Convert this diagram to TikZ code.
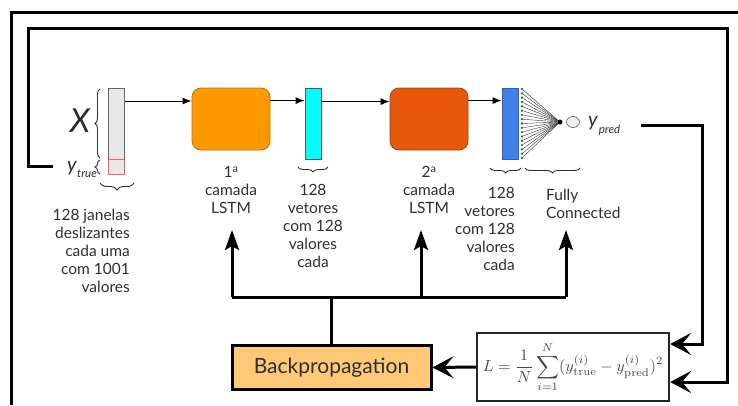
\documentclass[tikz,border=0pt]{standalone}
\usepackage[no-math]{fontspec}
\setmainfont{Lato}
\usepackage{amsmath}
\usetikzlibrary{arrows.meta,decorations.pathreplacing,shapes.geometric,calc}
\definecolor{txt}{HTML}{2E2E2E}
\definecolor{lstmA}{HTML}{FF9900}
\definecolor{lstmAline}{HTML}{B8740F}
\definecolor{lstmB}{HTML}{E8580C}
\definecolor{lstmBline}{HTML}{99461C}
\definecolor{vecA}{HTML}{00FFFF}
\definecolor{vecB}{HTML}{4080E8}
\definecolor{vecBline}{HTML}{2F5FAF}
\definecolor{bpfill}{HTML}{FFC877}
\definecolor{dotc}{HTML}{2F5F4F}
\begin{document}
\begin{tikzpicture}[x=1pt,y=-1pt,
  lab/.style={text=txt,inner sep=0pt,font=\fontsize{15.5}{18}\selectfont},
  bar/.style={minimum width=16pt,inner sep=0pt,line width=0.8pt},
  lstm/.style={minimum width=78pt,minimum height=62pt,rounded corners=9pt,inner sep=0pt,line width=0.8pt},
  arr/.style={line width=1pt,-{Latex[length=9pt,width=7pt]}},
  fb/.style={line width=3pt,-{Stealth[length=21pt,width=22pt,inset=9pt]}},
  bus/.style={line width=3pt},
  uparr/.style={line width=3pt,-{Stealth[length=20pt,width=14pt,inset=4pt]}},
  brc/.style={decorate,decoration={brace,amplitude=5pt},draw=txt,line width=0.9pt},
  fcline/.style={draw=black!80,line width=0.4pt}]
\useasboundingbox (0,0) rectangle (738,405);

% frame
\draw[line width=3pt] (11,405) -- (11,12) -- (738,12);

% input window
\node[bar,draw=gray!80!black,fill=gray!18,minimum height=86pt,anchor=north west] (xin) at (108,88) {};
\node[bar,draw=red!65,minimum height=15pt,anchor=north west] (ytr) at (108,159) {};

% layers
\node[lstm,fill=lstmA,draw=lstmAline] (l1) at (231,119) {};
\node[bar,fill=vecA,draw=gray!70!black,minimum height=71pt] (c1) at (313,123.5) {};
\node[lstm,fill=lstmB,draw=lstmBline] (l2) at (429,119) {};
\node[bar,fill=vecB,draw=vecBline,minimum height=71pt] (b1) at (510,123.5) {};

% forward arrows
\draw[arr] ([yshift=-13pt]xin.north east) coordinate (a0) -- (a0 -| l1.west);
\draw[arr] ([yshift=-13pt]l1.north east) coordinate (a1) -- (a1 -| c1.west);
\draw[arr] ([yshift=-14pt]c1.north east) coordinate (a2) -- (a2 -| l2.west);
\draw[arr] ([yshift=-13pt]l2.north east) coordinate (a3) -- (a3 -| b1.west);

% fully connected layer
\node[circle,fill=black,minimum size=5pt,inner sep=0pt] (fc) at (560,122) {};
\foreach \i in {0,...,16}{
  \node[circle,fill=dotc,minimum size=2.6pt,inner sep=0pt] (d\i) at (522,{89+\i*69/16}) {};
  \draw[fcline] (d\i) -- (fc);
}
\node[ellipse,draw=gray!70!black,fill=gray!12,minimum width=13pt,minimum height=11pt,inner sep=0pt,line width=0.6pt] (yo) at (573,122) {};

% symbols
\node[lab] (xl) at (80,121) {\itshape\fontsize{33}{33}\selectfont X};
\node[lab,anchor=east] (ytl) at (97,169) {\itshape\fontsize{20}{20}\selectfont y\kern0.5pt\raisebox{-6pt}{\fontsize{11.5}{11.5}\selectfont true}};
\node[lab,anchor=west] (ypl) at (588,126) {\itshape\fontsize{20}{20}\selectfont y\kern1pt\raisebox{-7pt}{\fontsize{11.5}{11.5}\selectfont pred}};

% braces
\draw[brc] (100,158) -- (100,89);
\draw[brc] (100,174) -- (100,160);
\draw[brc,decoration={amplitude=7pt}] (134,183) -- (100,183);
\draw[brc] (328,167) -- (298,167);
\draw[brc] (521,168) -- (490,168);
\draw[brc] (580,168) -- (525,168);

% labels
\node[lab,align=right,anchor=east] (win) at (130,251) {128 janelas\\deslizantes\\cada uma\\com 1001\\valores};
\node[lab,align=center] (lab1) at (231,190) {1\textsuperscript{a}\\camada\\LSTM};
\node[lab,align=center] (lab2) at (429,190) {2\textsuperscript{a}\\camada\\LSTM};
\node[lab,align=center] (vtc) at (313,226) {128\\vetores\\com 128\\valores\\cada};
\node[lab,align=right,anchor=east] (vtb) at (515,229) {128\\vetores\\com 128\\valores\\cada};
\node[lab,align=left,anchor=west] (fcl) at (546,203.5) {Fully\\Connected};

% loss and backpropagation
\node[draw=black!85,line width=2.2pt,minimum width=192pt,minimum height=68pt,inner sep=0pt,text=black!72] (lbox) at (573,367)
  {\scalebox{1.6}{$\displaystyle L=\frac{1}{N}\sum_{i=1}^{N}(y^{(i)}_{\mathrm{true}}-y^{(i)}_{\mathrm{pred}})^2$}};
\node[draw=black,fill=bpfill,line width=3pt,minimum width=199pt,minimum height=44pt,inner sep=0pt,text=txt,font=\fontsize{21}{21}\selectfont] (bp) at (331.5,367.5) {Backpropagation};
\draw[fb] (lbox.west) -- (bp.east);

% update bus
\coordinate (j1) at (232,297);
\coordinate (j2) at (421,297);
\coordinate (j3) at (566,297);
\draw[bus] (j1) -- (j3);
\draw[bus] (bp.north) -- (bp.north |- j1);
\draw[uparr] (j1) -- ++(0,-67);
\draw[uparr] (j2) -- ++(0,-67);
\draw[uparr] (j3) -- ++(0,-67);

% targets and predictions into the loss
\coordinate (ht) at (53,166);
\draw[fb] (ht) -| (28,28) -- (727,28) |- ([yshift=-15pt]lbox.east);
\coordinate (pe) at (641,125);
\draw[fb] (pe) -- (702,125) |- ([yshift=23pt]lbox.east);
\end{tikzpicture}
\end{document}
